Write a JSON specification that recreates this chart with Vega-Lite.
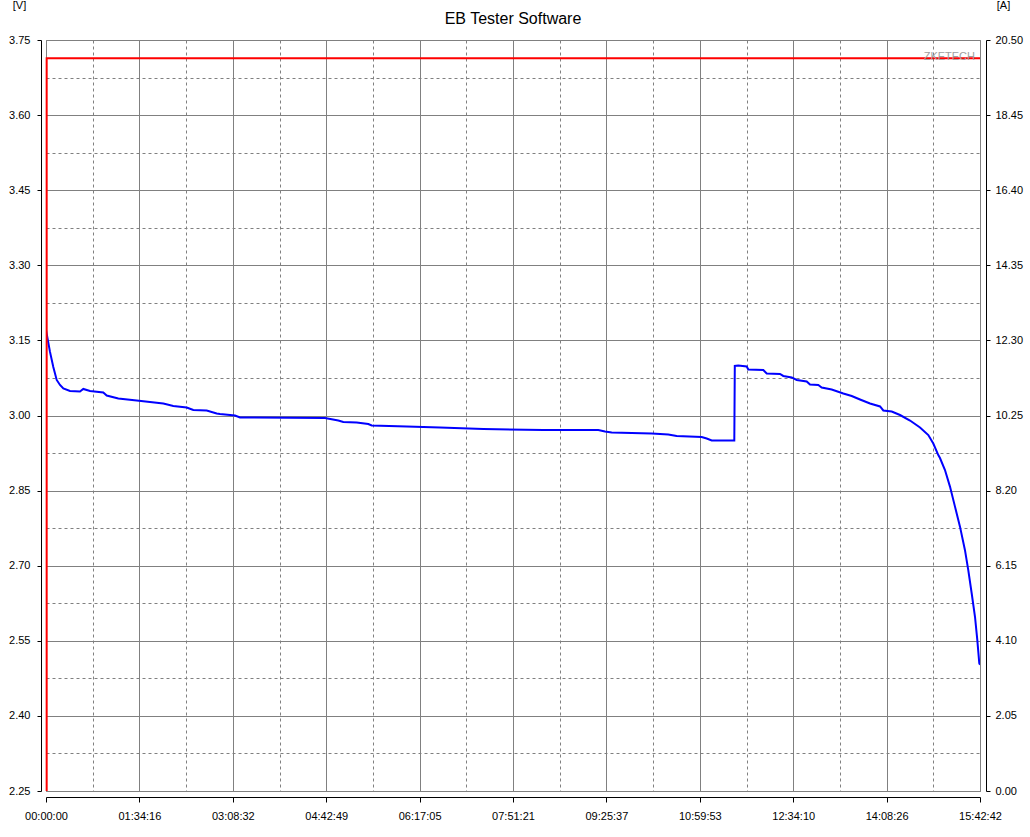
{
  "$schema": "https://vega.github.io/schema/vega-lite/v6.json",
  "width": 934,
  "height": 751,
  "autosize": {"type": "none"},
  "padding": {"left": 46, "top": 40, "right": 50, "bottom": 46},
  "background": "white",
  "config": {
    "view": {"stroke": "#808080", "strokeWidth": 1},
    "font": "Liberation Sans",
    "axis": {"domainColor": "black", "tickColor": "black", "labelColor": "black", "labelFont": "Liberation Sans", "labelFontSize": 11, "titleFont": "Liberation Sans", "titleFontSize": 11, "titleFontWeight": "normal", "titleColor": "black"}
  },
  "title": {"text": "EB Tester Software", "fontSize": 16, "fontWeight": "normal", "color": "black", "font": "Liberation Sans", "offset": -28, "anchor": "middle"},
  "datasets": {
    "voltage": [
      {"t": 0, "v": 3.171}, {"t": 242, "v": 3.127}, {"t": 442, "v": 3.097}, {"t": 648, "v": 3.071},
      {"t": 848, "v": 3.061}, {"t": 1048, "v": 3.054}, {"t": 1453, "v": 3.049}, {"t": 2059, "v": 3.048},
      {"t": 2259, "v": 3.053}, {"t": 2665, "v": 3.049}, {"t": 3470, "v": 3.046}, {"t": 3676, "v": 3.040},
      {"t": 4378, "v": 3.034}, {"t": 5493, "v": 3.030}, {"t": 6298, "v": 3.027}, {"t": 7104, "v": 3.024},
      {"t": 7709, "v": 3.019}, {"t": 8521, "v": 3.016}, {"t": 8920, "v": 3.011}, {"t": 9732, "v": 3.010},
      {"t": 10338, "v": 3.004}, {"t": 10537, "v": 3.003}, {"t": 11446, "v": 3.000}, {"t": 11748, "v": 2.996},
      {"t": 16896, "v": 2.995}, {"t": 17701, "v": 2.990}, {"t": 18004, "v": 2.987}, {"t": 18816, "v": 2.986},
      {"t": 19518, "v": 2.983}, {"t": 19724, "v": 2.980}, {"t": 21844, "v": 2.978}, {"t": 23860, "v": 2.976},
      {"t": 26482, "v": 2.973}, {"t": 30116, "v": 2.971}, {"t": 33447, "v": 2.971}, {"t": 33852, "v": 2.968},
      {"t": 34258, "v": 2.966}, {"t": 36680, "v": 2.964}, {"t": 37686, "v": 2.962}, {"t": 38194, "v": 2.959},
      {"t": 39708, "v": 2.957}, {"t": 40011, "v": 2.954}, {"t": 40314, "v": 2.950}, {"t": 41683, "v": 2.950},
      {"t": 41713, "v": 3.099}, {"t": 41925, "v": 3.100}, {"t": 42434, "v": 3.098}, {"t": 42531, "v": 3.092},
      {"t": 43440, "v": 3.091}, {"t": 43645, "v": 3.084}, {"t": 44450, "v": 3.083}, {"t": 44650, "v": 3.079},
      {"t": 45159, "v": 3.076}, {"t": 45462, "v": 3.071}, {"t": 46067, "v": 3.068}, {"t": 46267, "v": 3.062},
      {"t": 46770, "v": 3.061}, {"t": 46976, "v": 3.056}, {"t": 47581, "v": 3.052}, {"t": 48284, "v": 3.044},
      {"t": 48793, "v": 3.039}, {"t": 49296, "v": 3.032}, {"t": 49902, "v": 3.024}, {"t": 50508, "v": 3.018},
      {"t": 50707, "v": 3.010}, {"t": 51216, "v": 3.008}, {"t": 51718, "v": 3.001}, {"t": 52324, "v": 2.990},
      {"t": 52929, "v": 2.976}, {"t": 53432, "v": 2.961}, {"t": 53734, "v": 2.944}, {"t": 54037, "v": 2.921},
      {"t": 54138, "v": 2.915}, {"t": 54441, "v": 2.891}, {"t": 54744, "v": 2.858}, {"t": 55047, "v": 2.818},
      {"t": 55350, "v": 2.778}, {"t": 55652, "v": 2.731}, {"t": 55852, "v": 2.691}, {"t": 56058, "v": 2.645},
      {"t": 56259, "v": 2.598}, {"t": 56398, "v": 2.552}, {"t": 56519, "v": 2.505}, {"t": 56562, "v": 2.502}
    ],
    "current": [
      {"i": 0, "t": 40, "a": 0},
      {"i": 1, "t": 40, "a": 20.0},
      {"i": 2, "t": 56562, "a": 20.0}
    ],
    "mark": [
      {"t": 56562, "v": 3.717, "label": "ZKETECH"}
    ]
  },
  "layer": [
    {
      "data": {"name": "voltage"},
      "mark": {"type": "line", "color": "#0000FF", "strokeWidth": 2, "interpolate": "linear", "clip": true},
      "encoding": {
        "x": {
          "field": "t", "type": "quantitative",
          "scale": {"domain": [0, 56562], "nice": false, "zero": false},
          "axis": {
            "title": null,
            "values": [0, 2828.1, 5656.2, 8484.3, 11312.4, 14140.5, 16968.6, 19796.7, 22624.8, 25452.9, 28281, 31109.1, 33937.2, 36765.3, 39593.4, 42421.5, 45249.6, 48077.7, 50905.8, 53733.9, 56562],
            "labelExpr": "round(datum.value/2828.1)%2==1 ? '' : utcFormat(round(datum.value)*1000, '%H:%M:%S')",
            "grid": true,
            "gridColor": "#808080",
            "gridOpacity": 1,
            "gridWidth": 1,
            "gridDash": {"condition": {"test": "round(datum.value/2828.1)%2==1", "value": [3, 3]}, "value": []},
            "tickOpacity": {"condition": {"test": "round(datum.value/2828.1)%2==1", "value": 0}, "value": 1},
            "offset": 6,
            "tickSize": 5,
            "labelPadding": 8,
            "labelFlush": false,
            "labelOverlap": false,
            "labelBound": false
          }
        },
        "y": {
          "field": "v", "type": "quantitative",
          "scale": {"domain": [2.25, 3.75], "nice": false, "zero": false},
          "axis": {
            "orient": "left",
            "title": "[V]",
            "titleAngle": 0,
            "titleAlign": "center",
            "titleBaseline": "alphabetic",
            "titleX": -22,
            "titleY": -32,
            "values": [2.25, 2.325, 2.4, 2.475, 2.55, 2.625, 2.7, 2.775, 2.85, 2.925, 3.0, 3.075, 3.15, 3.225, 3.3, 3.375, 3.45, 3.525, 3.6, 3.675, 3.75],
            "labelExpr": "round((datum.value-2.25)/0.075)%2==1 ? '' : format(datum.value, '.2f')",
            "grid": true,
            "gridColor": "#808080",
            "gridOpacity": 1,
            "gridWidth": 1,
            "gridDash": {"condition": {"test": "round((datum.value-2.25)/0.075)%2==1", "value": [3, 3]}, "value": []},
            "tickOpacity": {"condition": {"test": "round((datum.value-2.25)/0.075)%2==1", "value": 0}, "value": 1},
            "offset": 5,
            "tickSize": 4,
            "labelPadding": 7,
            "labelOverlap": false,
            "labelBound": false,
            "labelFlush": false
          }
        }
      }
    },
    {
      "data": {"name": "current"},
      "mark": {"type": "line", "color": "#FF0000", "strokeWidth": 2, "interpolate": "linear"},
      "encoding": {
        "x": {"field": "t", "type": "quantitative", "scale": {"domain": [0, 56562], "nice": false, "zero": false}, "axis": null},
        "y": {
          "field": "a", "type": "quantitative",
          "scale": {"domain": [0, 20.5], "nice": false, "zero": false},
          "axis": {
            "orient": "right",
            "title": "[A]",
            "titleAngle": 0,
            "titleAlign": "center",
            "titleBaseline": "alphabetic",
            "titleX": 17,
            "titleY": -32,
            "values": [0, 2.05, 4.1, 6.15, 8.2, 10.25, 12.3, 14.35, 16.4, 18.45, 20.5],
            "format": ".2f",
            "grid": false,
            "offset": 6,
            "tickSize": 4,
            "labelPadding": 5,
            "labelOverlap": false,
            "labelBound": false,
            "labelFlush": false
          }
        },
        "order": {"field": "i", "type": "quantitative"}
      }
    },
    {
      "data": {"name": "mark"},
      "mark": {"type": "text", "align": "right", "baseline": "middle", "dx": -5, "dy": 0, "font": "Liberation Sans", "fontSize": 11, "color": "#a0a0a0"},
      "encoding": {
        "x": {"field": "t", "type": "quantitative", "scale": {"domain": [0, 56562], "nice": false, "zero": false}, "axis": null},
        "y": {"field": "v", "type": "quantitative", "scale": {"domain": [2.25, 3.75], "nice": false, "zero": false}, "axis": null},
        "text": {"field": "label"}
      }
    }
  ],
  "resolve": {"scale": {"y": "independent"}, "axis": {"x": "independent"}}
}
